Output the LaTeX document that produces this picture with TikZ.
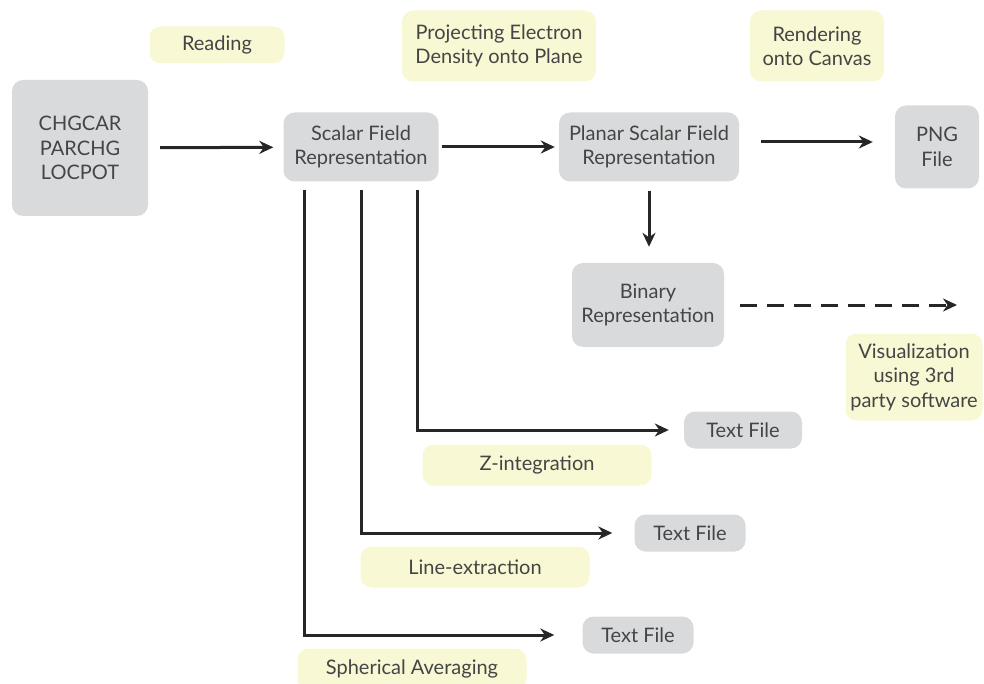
\documentclass[tikz,border=0pt]{standalone}
\usepackage{fontspec}
\setmainfont{Lato}
\usetikzlibrary{arrows.meta}
\definecolor{boxgray}{HTML}{D9DADB}
\definecolor{noteyellow}{HTML}{F8F8D4}
\definecolor{inkgray}{HTML}{454545}

\begin{document}
\begin{tikzpicture}[x=1pt, y=-1pt]

\tikzset{datafile/.style={fill=boxgray, shape=rectangle, rounded corners=11, align=center, text=inkgray, font=\fontsize{20}{24.5}\selectfont, inner sep=0}}
\tikzset{process/.style={fill=noteyellow, shape=rectangle, rounded corners=11, align=center, text=inkgray, font=\fontsize{20}{24.5}\selectfont, inner sep=0}}
\tikzset{flow/.style={-{Stealth[length=14, width=13]}, line width=3, color=black!85}}
\tikzset{branch/.style={flow, rounded corners=0}}
\tikzset{optional/.style={flow, dash pattern=on 17 off 10}}

\useasboundingbox (0,0) rectangle (984,684);

\node[datafile, minimum width=136, minimum height=136] (input) at (80,148) {CHGCAR\\PARCHG\\LOCPOT};
\node[datafile, minimum width=155, minimum height=69] (scalar) at (361,147) {Scalar Field\\Representation};
\node[datafile, minimum width=180, minimum height=69] (planar) at (649,147) {Planar Scalar Field\\Representation};
\node[datafile, minimum width=84, minimum height=83] (png) at (937,147) {PNG\\File};
\node[datafile, minimum width=152, minimum height=84] (binary) at (648,305) {Binary\\Representation};
\node[datafile, minimum width=118, minimum height=37] (zfile) at (743,430) {Text File};
\node[datafile, minimum width=111, minimum height=37] (linefile) at (690,533) {Text File};
\node[datafile, minimum width=111, minimum height=37] (sphfile) at (638,635) {Text File};

\node[process, minimum width=135, minimum height=37] (reading) at (217,45) {Reading};
\node[process, minimum width=194, minimum height=71] (project) at (499,46) {Projecting Electron\\Density onto Plane};
\node[process, minimum width=134, minimum height=71] (render) at (817,46) {Rendering\\onto Canvas};
\node[process, minimum width=137, minimum height=87] (visual) at (914,377) {Visualization\\using 3rd\\party software};
\node[process, minimum width=229, minimum height=41] (zint) at (537,465) {Z-integration};
\node[process, minimum width=229, minimum height=41] (lineext) at (475,567) {Line-extraction};
\node[process, minimum width=229, minimum height=41] (sphavg) at (412,669) {Spherical Averaging};

\draw[flow, shorten <=12, shorten >=10] (input) -- (scalar);
\draw[flow, shorten <=3, shorten >=4] (scalar) -- (planar);
\draw[flow, shorten <=22, shorten >=22] (planar.east |- 0,142) -- (png.west |- 0,142);
\draw[flow, shorten <=9, shorten >=16] (planar) -- (binary.north -| planar);

\coordinate (visend) at (957,305);
\draw[optional, shorten <=16] (binary) -- (visend);

\coordinate (zstart) at (417,190);
\coordinate (linestart) at (361,190);
\coordinate (sphstart) at (304,190);
\draw[branch, shorten >=15] (zstart) |- (zfile);
\draw[branch, shorten >=22] (linestart) |- (linefile);
\draw[branch, shorten >=28] (sphstart) |- (sphfile);

\end{tikzpicture}
\end{document}
